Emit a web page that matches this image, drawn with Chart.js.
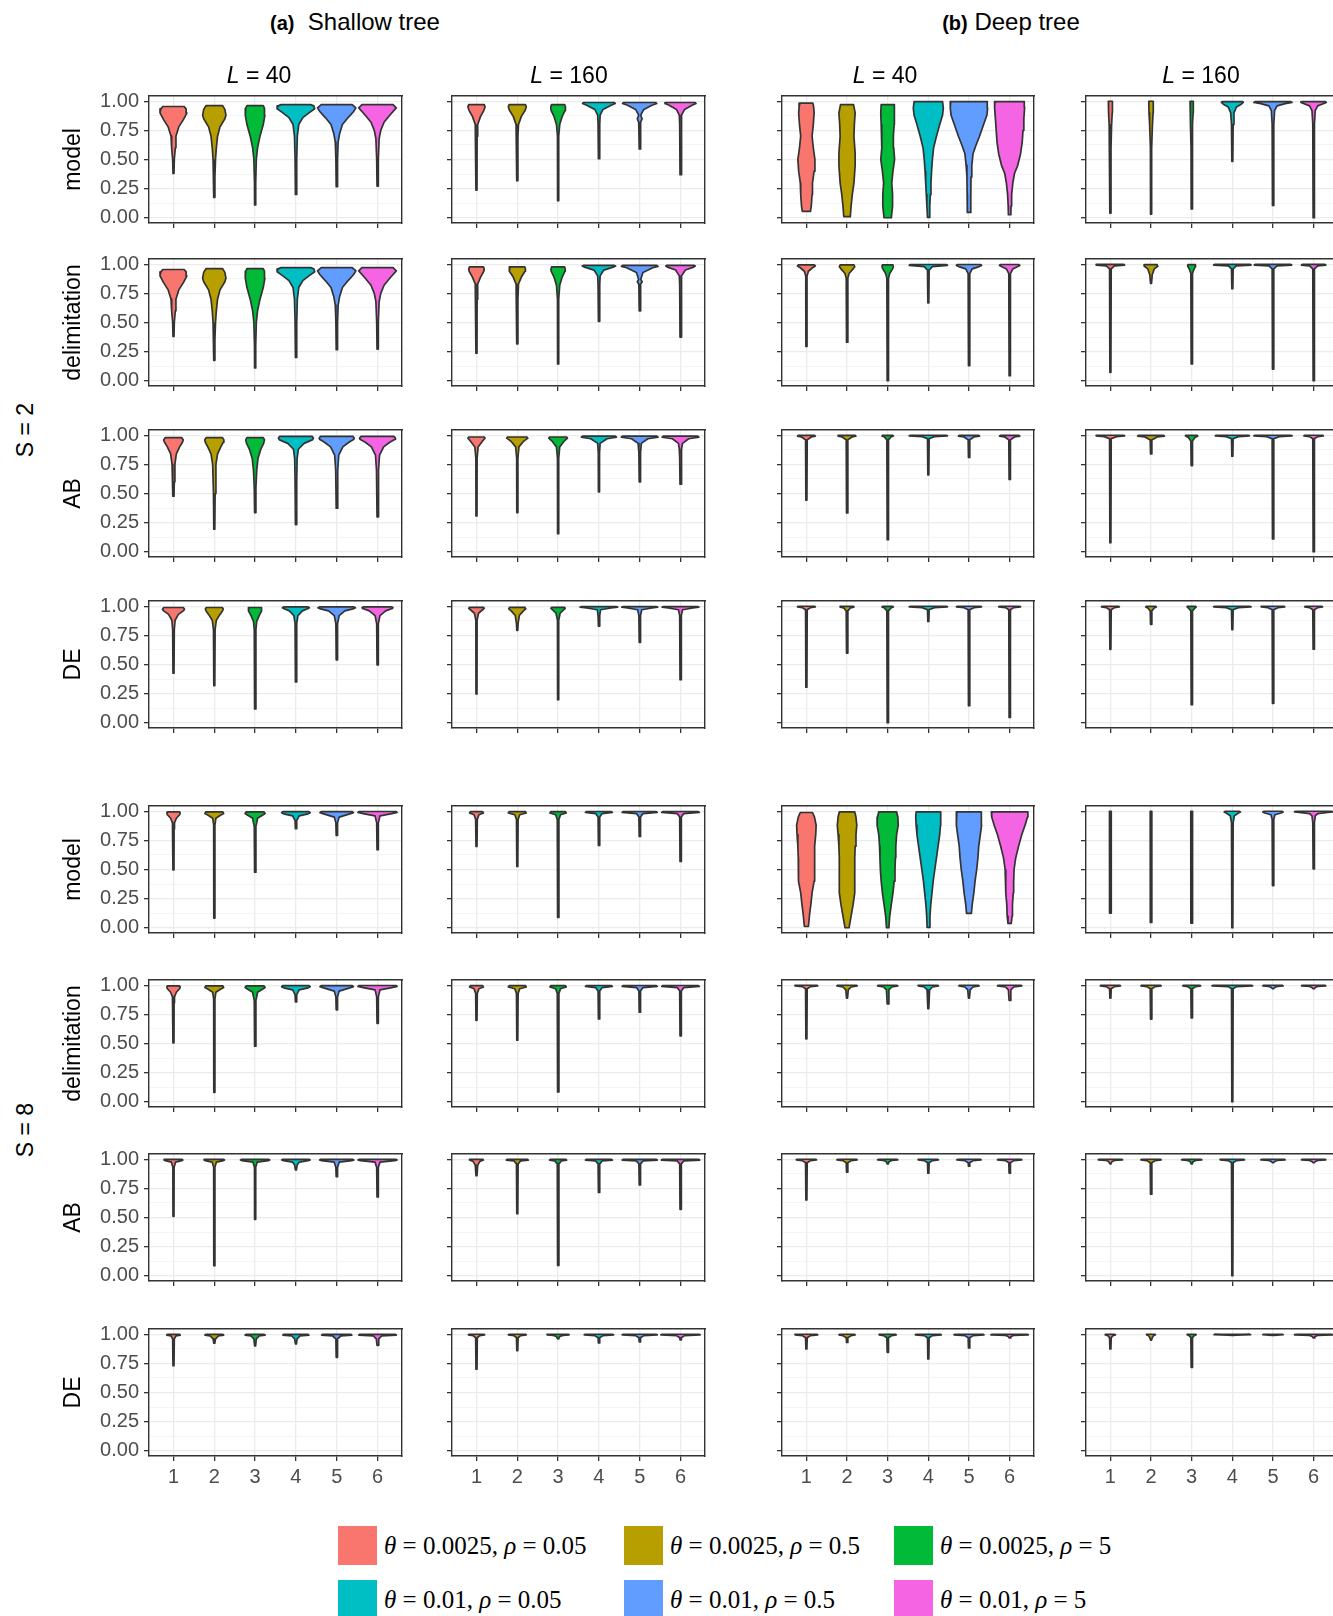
<!DOCTYPE html>
<html>
<head>
<meta charset="utf-8">
<script src="https://cdn.jsdelivr.net/npm/chart.js@4"></script>
<style>
html, body { margin: 0; padding: 0; background: #fff; overflow: hidden; }
#page { position: relative; width: 1333px; height: 1616px; overflow: hidden; font-family: "Liberation Sans", Arial, sans-serif; }
canvas { position: absolute; }
.lbl { position: absolute; transform: translate(-50%, -50%); white-space: nowrap; color: #000; font-size: 23px; }
.side { position: absolute; transform: translate(-50%, -50%) rotate(-90deg); white-space: nowrap; font-size: 23px; }
.sw { position: absolute; width: 39px; height: 39px; }
.lt { position: absolute; transform: translateY(-50%); white-space: nowrap; font-family: "Liberation Serif", "Times New Roman", serif; font-size: 25px; }
</style>
</head>
<body>
<div id="page">
  <div class="lbl" style="left:355px; top:22px; font-size:24px;"><b style="font-size:20px;">(a)</b>&nbsp; Shallow tree</div>
  <div class="lbl" style="left:1011px; top:22px; font-size:24px;"><b style="font-size:20px;">(b)</b> Deep tree</div>
  <div class="side" style="left:25px; top:430px;">S = 2</div>
  <div class="side" style="left:25px; top:1130px;">S = 8</div>
</div>
<script>
const groups = [1, 2, 3, 4, 5, 6];
const fillColors = ['#F8766D', '#B79F00', '#00BA38', '#00BFC4', '#619CFF', '#F564E3'];
const yTicks = [0, 0.25, 0.5, 0.75, 1];
const yMinorTicks = [0.125, 0.375, 0.625, 0.875];
const rowTitles = ['model', 'delimitation', 'AB', 'DE', 'model', 'delimitation', 'AB', 'DE'];
const colTitles = ['40', '160', '40', '160'];
const thetaValues = ['0.0025', '0.0025', '0.0025', '0.01', '0.01', '0.01'];
const rhoValues = ['0.05', '0.5', '5', '0.05', '0.5', '5'];

// each violin: [value, half width] pairs, bottom to top

// ---- S = 2, shallow tree
const shallow_S2_L40_model = [
  [[0.38,0.012],[0.5,0.02],[0.6,0.045],[0.7,0.06],[0.78,0.13],[0.84,0.24],[0.9,0.33],[0.935,0.31],[0.955,0.26]],
  [[0.175,0.012],[0.35,0.015],[0.5,0.03],[0.6,0.05],[0.7,0.08],[0.78,0.14],[0.85,0.26],[0.88,0.285],[0.93,0.26],[0.963,0.2]],
  [[0.11,0.012],[0.3,0.015],[0.5,0.03],[0.6,0.06],[0.7,0.12],[0.8,0.2],[0.88,0.24],[0.94,0.23],[0.963,0.2]],
  [[0.2,0.012],[0.5,0.02],[0.7,0.035],[0.8,0.07],[0.86,0.17],[0.9,0.32],[0.935,0.46],[0.96,0.44],[0.971,0.36]],
  [[0.266,0.012],[0.5,0.02],[0.65,0.035],[0.72,0.07],[0.8,0.14],[0.86,0.28],[0.91,0.41],[0.943,0.47],[0.971,0.38]],
  [[0.272,0.012],[0.5,0.02],[0.68,0.04],[0.75,0.08],[0.82,0.16],[0.88,0.3],[0.943,0.46],[0.971,0.38]]
];
const shallow_S2_L40_delim = [
  [[0.38,0.012],[0.5,0.02],[0.6,0.045],[0.7,0.06],[0.78,0.13],[0.84,0.24],[0.9,0.33],[0.935,0.31],[0.955,0.26]],
  [[0.175,0.012],[0.35,0.015],[0.5,0.03],[0.6,0.05],[0.7,0.08],[0.78,0.14],[0.85,0.26],[0.88,0.285],[0.93,0.26],[0.963,0.2]],
  [[0.11,0.012],[0.3,0.015],[0.5,0.03],[0.6,0.06],[0.7,0.12],[0.8,0.2],[0.88,0.24],[0.94,0.23],[0.963,0.2]],
  [[0.2,0.012],[0.5,0.02],[0.7,0.035],[0.8,0.07],[0.86,0.17],[0.9,0.32],[0.935,0.46],[0.96,0.44],[0.971,0.36]],
  [[0.266,0.012],[0.5,0.02],[0.65,0.035],[0.72,0.07],[0.8,0.14],[0.86,0.28],[0.91,0.41],[0.943,0.47],[0.971,0.38]],
  [[0.272,0.012],[0.5,0.02],[0.68,0.04],[0.75,0.08],[0.82,0.16],[0.88,0.3],[0.943,0.46],[0.971,0.38]]
];
const shallow_S2_L40_AB = [
  [[0.477,0.012],[0.6,0.02],[0.75,0.035],[0.84,0.07],[0.9,0.15],[0.94,0.22],[0.96,0.24],[0.98,0.2]],
  [[0.193,0.012],[0.5,0.02],[0.75,0.04],[0.84,0.08],[0.9,0.16],[0.94,0.22],[0.96,0.235],[0.98,0.2]],
  [[0.336,0.012],[0.55,0.02],[0.7,0.04],[0.8,0.07],[0.88,0.14],[0.93,0.21],[0.96,0.23],[0.98,0.2]],
  [[0.233,0.012],[0.6,0.02],[0.8,0.03],[0.88,0.06],[0.93,0.2],[0.96,0.4],[0.975,0.43],[0.99,0.4]],
  [[0.374,0.012],[0.7,0.025],[0.83,0.05],[0.9,0.15],[0.94,0.3],[0.965,0.42],[0.975,0.43],[0.99,0.4]],
  [[0.3,0.012],[0.7,0.025],[0.83,0.05],[0.9,0.15],[0.94,0.3],[0.965,0.43],[0.975,0.44],[0.99,0.4]]
];
const shallow_S2_L40_DE = [
  [[0.425,0.012],[0.8,0.02],[0.88,0.04],[0.93,0.12],[0.96,0.24],[0.975,0.27],[0.989,0.24]],
  [[0.319,0.012],[0.8,0.02],[0.88,0.05],[0.93,0.14],[0.96,0.2],[0.975,0.22],[0.989,0.2]],
  [[0.118,0.012],[0.8,0.02],[0.87,0.04],[0.92,0.1],[0.96,0.16],[0.975,0.165],[0.989,0.15]],
  [[0.35,0.012],[0.85,0.02],[0.92,0.05],[0.96,0.16],[0.98,0.3],[0.987,0.33],[0.994,0.3]],
  [[0.54,0.012],[0.85,0.02],[0.92,0.06],[0.96,0.2],[0.98,0.42],[0.987,0.46],[0.994,0.42]],
  [[0.497,0.012],[0.85,0.02],[0.92,0.06],[0.96,0.2],[0.98,0.36],[0.987,0.38],[0.994,0.35]]
];
const shallow_S2_L160_model = [
  [[0.238,0.012],[0.7,0.015],[0.8,0.03],[0.87,0.1],[0.92,0.18],[0.95,0.21],[0.971,0.19]],
  [[0.318,0.012],[0.7,0.015],[0.8,0.03],[0.87,0.1],[0.92,0.19],[0.95,0.22],[0.971,0.2]],
  [[0.146,0.012],[0.7,0.015],[0.8,0.04],[0.87,0.1],[0.92,0.17],[0.95,0.18],[0.971,0.16]],
  [[0.507,0.012],[0.8,0.02],[0.88,0.03],[0.93,0.1],[0.965,0.3],[0.98,0.4],[0.989,0.38]],
  [[0.59,0.012],[0.75,0.02],[0.82,0.025],[0.85,0.06],[0.88,0.025],[0.93,0.1],[0.965,0.3],[0.98,0.42],[0.989,0.4]],
  [[0.37,0.012],[0.8,0.02],[0.88,0.03],[0.93,0.1],[0.965,0.28],[0.98,0.38],[0.989,0.36]]
];
const shallow_S2_L160_delim = [
  [[0.236,0.012],[0.7,0.015],[0.83,0.03],[0.89,0.1],[0.94,0.18],[0.96,0.19],[0.977,0.17]],
  [[0.317,0.012],[0.7,0.015],[0.83,0.03],[0.89,0.1],[0.94,0.19],[0.96,0.2],[0.977,0.18]],
  [[0.144,0.012],[0.7,0.015],[0.82,0.04],[0.89,0.1],[0.94,0.17],[0.96,0.175],[0.977,0.16]],
  [[0.51,0.012],[0.82,0.02],[0.9,0.03],[0.95,0.12],[0.975,0.35],[0.985,0.41],[0.99,0.38]],
  [[0.6,0.012],[0.8,0.02],[0.83,0.025],[0.85,0.06],[0.87,0.025],[0.93,0.08],[0.97,0.32],[0.982,0.45],[0.99,0.42]],
  [[0.375,0.012],[0.82,0.02],[0.9,0.03],[0.95,0.12],[0.975,0.32],[0.985,0.36],[0.99,0.34]]
];
const shallow_S2_L160_AB = [
  [[0.307,0.012],[0.8,0.015],[0.9,0.04],[0.95,0.15],[0.975,0.21],[0.985,0.19]],
  [[0.336,0.012],[0.8,0.015],[0.9,0.04],[0.95,0.16],[0.975,0.26],[0.985,0.24]],
  [[0.155,0.012],[0.8,0.015],[0.9,0.04],[0.95,0.15],[0.975,0.23],[0.985,0.21]],
  [[0.514,0.012],[0.85,0.015],[0.93,0.03],[0.97,0.2],[0.983,0.43],[0.992,0.4]],
  [[0.6,0.012],[0.85,0.02],[0.93,0.04],[0.97,0.2],[0.983,0.45],[0.992,0.42]],
  [[0.58,0.012],[0.8,0.02],[0.88,0.03],[0.93,0.05],[0.97,0.2],[0.983,0.45],[0.992,0.42]]
];
const shallow_S2_L160_DE = [
  [[0.247,0.012],[0.88,0.015],[0.94,0.05],[0.97,0.15],[0.982,0.19],[0.99,0.17]],
  [[0.793,0.012],[0.85,0.02],[0.92,0.05],[0.96,0.15],[0.978,0.21],[0.99,0.19]],
  [[0.198,0.012],[0.88,0.015],[0.94,0.05],[0.97,0.14],[0.982,0.175],[0.99,0.16]],
  [[0.83,0.012],[0.92,0.02],[0.97,0.04],[0.985,0.3],[0.992,0.46],[0.997,0.42]],
  [[0.69,0.012],[0.92,0.02],[0.97,0.05],[0.985,0.3],[0.992,0.44],[0.997,0.4]],
  [[0.37,0.012],[0.92,0.02],[0.97,0.05],[0.985,0.3],[0.992,0.45],[0.997,0.41]]
];

// ---- S = 2, deep tree
const deep_S2_L40_model = [
  [[0.054,0.1],[0.1,0.12],[0.2,0.14],[0.3,0.15],[0.4,0.19],[0.5,0.21],[0.6,0.17],[0.7,0.14],[0.8,0.17],[0.9,0.19],[0.95,0.18],[0.983,0.16]],
  [[0.009,0.08],[0.1,0.1],[0.2,0.13],[0.3,0.17],[0.45,0.2],[0.55,0.2],[0.7,0.17],[0.8,0.18],[0.9,0.2],[0.971,0.16]],
  [[0.0,0.09],[0.1,0.12],[0.2,0.12],[0.3,0.1],[0.4,0.13],[0.5,0.17],[0.6,0.15],[0.7,0.14],[0.8,0.16],[0.9,0.17],[0.971,0.16]],
  [[0.003,0.02],[0.1,0.035],[0.2,0.05],[0.3,0.065],[0.4,0.08],[0.5,0.1],[0.6,0.13],[0.7,0.2],[0.8,0.28],[0.88,0.35],[0.94,0.37],[0.997,0.35]],
  [[0.046,0.04],[0.2,0.045],[0.35,0.05],[0.45,0.07],[0.55,0.1],[0.62,0.17],[0.7,0.26],[0.8,0.36],[0.88,0.44],[0.94,0.46],[0.997,0.45]],
  [[0.026,0.03],[0.1,0.035],[0.2,0.05],[0.3,0.08],[0.38,0.12],[0.45,0.2],[0.55,0.27],[0.65,0.31],[0.75,0.33],[0.85,0.35],[0.95,0.37],[0.997,0.36]]
];
const deep_S2_L40_delim = [
  [[0.294,0.012],[0.9,0.015],[0.94,0.05],[0.97,0.15],[0.985,0.22],[0.994,0.2]],
  [[0.331,0.012],[0.88,0.02],[0.92,0.05],[0.96,0.15],[0.98,0.19],[0.994,0.17]],
  [[0.0,0.012],[0.88,0.02],[0.92,0.05],[0.96,0.12],[0.98,0.14],[0.994,0.13]],
  [[0.669,0.012],[0.95,0.02],[0.98,0.1],[0.99,0.47],[0.998,0.45]],
  [[0.13,0.012],[0.92,0.02],[0.96,0.08],[0.98,0.25],[0.99,0.31],[0.998,0.29]],
  [[0.043,0.012],[0.92,0.02],[0.96,0.08],[0.98,0.2],[0.99,0.25],[0.998,0.23]]
];
const deep_S2_L40_AB = [
  [[0.443,0.012],[0.96,0.02],[0.985,0.12],[0.993,0.22],[0.999,0.2]],
  [[0.333,0.012],[0.96,0.02],[0.985,0.12],[0.993,0.22],[0.999,0.2]],
  [[0.103,0.012],[0.96,0.02],[0.985,0.08],[0.993,0.14],[0.999,0.13]],
  [[0.66,0.012],[0.97,0.02],[0.988,0.15],[0.995,0.47],[1.0,0.44]],
  [[0.81,0.012],[0.96,0.02],[0.985,0.12],[0.993,0.26],[0.999,0.24]],
  [[0.62,0.012],[0.96,0.02],[0.985,0.12],[0.993,0.25],[0.999,0.23]]
];
const deep_S2_L40_DE = [
  [[0.305,0.012],[0.97,0.02],[0.988,0.1],[0.995,0.22],[1.0,0.2]],
  [[0.598,0.012],[0.96,0.02],[0.985,0.08],[0.993,0.17],[0.999,0.16]],
  [[0.0,0.012],[0.96,0.02],[0.985,0.08],[0.993,0.14],[0.999,0.13]],
  [[0.87,0.012],[0.97,0.02],[0.988,0.15],[0.995,0.47],[1.0,0.44]],
  [[0.147,0.012],[0.97,0.02],[0.988,0.12],[0.995,0.31],[1.0,0.29]],
  [[0.046,0.012],[0.97,0.02],[0.988,0.1],[0.995,0.27],[1.0,0.25]]
];
const deep_S2_L160_model = [
  [[0.04,0.012],[0.6,0.015],[0.8,0.03],[0.9,0.045],[1.0,0.05]],
  [[0.032,0.012],[0.6,0.015],[0.8,0.035],[0.9,0.05],[1.0,0.055]],
  [[0.075,0.012],[0.6,0.015],[0.8,0.025],[0.9,0.035],[1.0,0.04]],
  [[0.484,0.012],[0.8,0.02],[0.9,0.04],[0.95,0.1],[0.975,0.22],[0.99,0.27],[0.997,0.25]],
  [[0.106,0.012],[0.8,0.02],[0.92,0.04],[0.96,0.1],[0.98,0.3],[0.99,0.47],[0.997,0.44]],
  [[0.0,0.012],[0.8,0.02],[0.92,0.04],[0.96,0.1],[0.98,0.25],[0.99,0.31],[0.997,0.29]]
];
const deep_S2_L160_delim = [
  [[0.072,0.012],[0.96,0.02],[0.985,0.1],[0.993,0.35],[0.999,0.33]],
  [[0.836,0.012],[0.91,0.03],[0.96,0.08],[0.985,0.17],[0.997,0.15]],
  [[0.144,0.012],[0.92,0.02],[0.96,0.06],[0.985,0.1],[0.997,0.09]],
  [[0.79,0.012],[0.96,0.02],[0.985,0.1],[0.993,0.46],[0.999,0.43]],
  [[0.1,0.012],[0.96,0.02],[0.985,0.1],[0.993,0.46],[0.999,0.43]],
  [[0.0,0.012],[0.96,0.02],[0.985,0.1],[0.993,0.3],[0.999,0.28]]
];
const deep_S2_L160_AB = [
  [[0.078,0.012],[0.97,0.02],[0.988,0.15],[0.995,0.35],[1.0,0.33]],
  [[0.84,0.012],[0.96,0.02],[0.985,0.15],[0.993,0.33],[0.999,0.31]],
  [[0.74,0.012],[0.95,0.02],[0.98,0.08],[0.993,0.15],[0.999,0.14]],
  [[0.82,0.012],[0.97,0.02],[0.988,0.15],[0.995,0.42],[1.0,0.4]],
  [[0.11,0.012],[0.97,0.02],[0.988,0.15],[0.995,0.47],[1.0,0.44]],
  [[0.0,0.012],[0.97,0.02],[0.988,0.1],[0.995,0.24],[1.0,0.22]]
];
const deep_S2_L160_DE = [
  [[0.63,0.012],[0.97,0.02],[0.988,0.1],[0.995,0.22],[1.0,0.2]],
  [[0.845,0.012],[0.96,0.02],[0.985,0.08],[0.993,0.13],[0.999,0.12]],
  [[0.155,0.012],[0.96,0.02],[0.985,0.08],[0.993,0.11],[0.999,0.1]],
  [[0.8,0.012],[0.97,0.02],[0.988,0.15],[0.995,0.46],[1.0,0.43]],
  [[0.167,0.012],[0.97,0.02],[0.988,0.12],[0.995,0.29],[1.0,0.27]],
  [[0.632,0.012],[0.97,0.02],[0.988,0.1],[0.995,0.22],[1.0,0.2]]
];

// ---- S = 8, shallow tree
const shallow_S8_L40_model = [
  [[0.497,0.012],[0.85,0.015],[0.9,0.025],[0.94,0.07],[0.97,0.15],[0.985,0.165],[0.994,0.15]],
  [[0.083,0.012],[0.88,0.015],[0.94,0.04],[0.965,0.15],[0.98,0.23],[0.994,0.21]],
  [[0.477,0.012],[0.87,0.02],[0.9,0.04],[0.94,0.06],[0.965,0.18],[0.98,0.245],[0.994,0.22]],
  [[0.85,0.012],[0.92,0.02],[0.96,0.08],[0.978,0.3],[0.988,0.35],[0.996,0.32]],
  [[0.793,0.012],[0.9,0.02],[0.95,0.06],[0.975,0.3],[0.987,0.41],[0.996,0.38]],
  [[0.67,0.012],[0.9,0.02],[0.96,0.06],[0.98,0.35],[0.99,0.48],[0.998,0.45]]
];
const shallow_S8_L40_delim = [
  [[0.506,0.012],[0.85,0.015],[0.9,0.025],[0.94,0.07],[0.97,0.15],[0.985,0.165],[0.994,0.15]],
  [[0.081,0.012],[0.88,0.015],[0.94,0.04],[0.965,0.15],[0.98,0.23],[0.994,0.21]],
  [[0.477,0.012],[0.87,0.02],[0.9,0.04],[0.94,0.06],[0.965,0.18],[0.98,0.245],[0.994,0.22]],
  [[0.858,0.012],[0.92,0.02],[0.96,0.08],[0.978,0.3],[0.988,0.35],[0.996,0.32]],
  [[0.789,0.012],[0.9,0.02],[0.95,0.06],[0.975,0.3],[0.987,0.41],[0.996,0.38]],
  [[0.673,0.012],[0.9,0.02],[0.96,0.06],[0.98,0.35],[0.99,0.48],[0.998,0.45]]
];
const shallow_S8_L40_AB = [
  [[0.51,0.012],[0.93,0.015],[0.975,0.05],[0.988,0.2],[0.994,0.23],[0.999,0.21]],
  [[0.086,0.012],[0.93,0.015],[0.975,0.05],[0.988,0.22],[0.994,0.25],[0.999,0.23]],
  [[0.484,0.012],[0.93,0.015],[0.975,0.05],[0.988,0.32],[0.994,0.36],[0.999,0.33]],
  [[0.908,0.012],[0.95,0.03],[0.975,0.08],[0.988,0.3],[0.994,0.35],[0.999,0.32]],
  [[0.85,0.012],[0.93,0.02],[0.975,0.06],[0.988,0.37],[0.994,0.42],[0.999,0.39]],
  [[0.677,0.012],[0.93,0.02],[0.975,0.06],[0.988,0.42],[0.994,0.48],[0.999,0.45]]
];
const shallow_S8_L40_DE = [
  [[0.73,0.012],[0.96,0.02],[0.985,0.06],[0.993,0.165],[0.999,0.15]],
  [[0.923,0.012],[0.96,0.03],[0.985,0.1],[0.993,0.23],[0.999,0.21]],
  [[0.9,0.012],[0.96,0.03],[0.985,0.1],[0.993,0.245],[0.999,0.22]],
  [[0.917,0.012],[0.96,0.03],[0.985,0.1],[0.993,0.32],[0.999,0.3]],
  [[0.802,0.012],[0.96,0.02],[0.985,0.1],[0.993,0.37],[0.999,0.35]],
  [[0.905,0.012],[0.96,0.03],[0.985,0.1],[0.993,0.46],[0.999,0.43]]
];
const shallow_S8_L160_model = [
  [[0.698,0.012],[0.93,0.02],[0.97,0.06],[0.985,0.17],[0.996,0.15]],
  [[0.526,0.012],[0.93,0.02],[0.97,0.06],[0.985,0.22],[0.996,0.2]],
  [[0.089,0.012],[0.93,0.02],[0.97,0.06],[0.985,0.2],[0.996,0.18]],
  [[0.707,0.012],[0.95,0.02],[0.98,0.08],[0.99,0.33],[0.998,0.3]],
  [[0.784,0.012],[0.95,0.02],[0.98,0.08],[0.99,0.43],[0.998,0.4]],
  [[0.569,0.012],[0.95,0.02],[0.98,0.08],[0.99,0.46],[0.998,0.43]]
];
const shallow_S8_L160_delim = [
  [[0.699,0.012],[0.93,0.02],[0.97,0.06],[0.985,0.17],[0.996,0.15]],
  [[0.529,0.012],[0.93,0.02],[0.97,0.06],[0.985,0.22],[0.996,0.2]],
  [[0.084,0.012],[0.93,0.02],[0.97,0.06],[0.985,0.2],[0.996,0.18]],
  [[0.711,0.012],[0.95,0.02],[0.98,0.08],[0.99,0.33],[0.998,0.3]],
  [[0.768,0.012],[0.95,0.02],[0.98,0.08],[0.99,0.43],[0.998,0.4]],
  [[0.566,0.012],[0.95,0.02],[0.98,0.08],[0.99,0.46],[0.998,0.43]]
];
const shallow_S8_L160_AB = [
  [[0.859,0.012],[0.95,0.03],[0.98,0.08],[0.993,0.17],[0.999,0.16]],
  [[0.533,0.012],[0.96,0.02],[0.985,0.08],[0.993,0.27],[0.999,0.25]],
  [[0.089,0.012],[0.96,0.02],[0.985,0.08],[0.993,0.21],[0.999,0.19]],
  [[0.715,0.012],[0.96,0.02],[0.985,0.08],[0.993,0.33],[0.999,0.3]],
  [[0.78,0.012],[0.96,0.02],[0.985,0.08],[0.993,0.43],[0.999,0.4]],
  [[0.57,0.012],[0.96,0.02],[0.985,0.08],[0.993,0.47],[0.999,0.44]]
];
const shallow_S8_L160_DE = [
  [[0.7,0.012],[0.97,0.02],[0.988,0.08],[0.995,0.2],[1.0,0.18]],
  [[0.86,0.012],[0.97,0.02],[0.988,0.08],[0.995,0.22],[1.0,0.2]],
  [[0.96,0.012],[0.98,0.04],[0.99,0.12],[0.995,0.27],[1.0,0.25]],
  [[0.925,0.012],[0.97,0.02],[0.988,0.1],[0.995,0.36],[1.0,0.33]],
  [[0.934,0.012],[0.97,0.02],[0.988,0.1],[0.995,0.43],[1.0,0.4]],
  [[0.951,0.012],[0.97,0.02],[0.988,0.1],[0.995,0.48],[1.0,0.45]]
];

// ---- S = 8, deep tree
const deep_S8_L40_model = [
  [[0.011,0.05],[0.12,0.08],[0.2,0.11],[0.3,0.14],[0.4,0.19],[0.5,0.2],[0.6,0.2],[0.7,0.21],[0.8,0.23],[0.88,0.24],[0.95,0.2],[0.989,0.15]],
  [[0.0,0.05],[0.1,0.1],[0.2,0.15],[0.3,0.19],[0.4,0.19],[0.5,0.19],[0.6,0.19],[0.7,0.2],[0.8,0.22],[0.88,0.24],[0.95,0.22],[0.994,0.19]],
  [[0.0,0.03],[0.1,0.05],[0.2,0.09],[0.3,0.13],[0.4,0.16],[0.5,0.18],[0.6,0.19],[0.7,0.2],[0.8,0.22],[0.88,0.26],[0.95,0.25],[0.994,0.22]],
  [[0.003,0.03],[0.1,0.04],[0.2,0.06],[0.3,0.09],[0.4,0.12],[0.5,0.16],[0.6,0.2],[0.7,0.24],[0.8,0.28],[0.88,0.3],[0.95,0.31],[0.994,0.3]],
  [[0.124,0.06],[0.2,0.08],[0.3,0.12],[0.4,0.15],[0.5,0.19],[0.6,0.22],[0.7,0.24],[0.8,0.28],[0.88,0.31],[0.95,0.31],[0.994,0.3]],
  [[0.037,0.04],[0.1,0.06],[0.2,0.07],[0.3,0.09],[0.4,0.1],[0.5,0.11],[0.6,0.15],[0.7,0.22],[0.8,0.3],[0.88,0.38],[0.95,0.44],[0.994,0.45]]
];
const deep_S8_L40_delim = [
  [[0.54,0.012],[0.97,0.02],[0.988,0.1],[0.995,0.28],[1.0,0.26]],
  [[0.89,0.012],[0.96,0.03],[0.985,0.1],[0.995,0.25],[1.0,0.23]],
  [[0.84,0.012],[0.96,0.03],[0.985,0.1],[0.995,0.25],[1.0,0.23]],
  [[0.8,0.012],[0.96,0.03],[0.985,0.1],[0.995,0.25],[1.0,0.23]],
  [[0.89,0.012],[0.96,0.03],[0.985,0.1],[0.995,0.25],[1.0,0.23]],
  [[0.87,0.012],[0.96,0.03],[0.985,0.1],[0.995,0.3],[1.0,0.28]]
];
const deep_S8_L40_AB = [
  [[0.65,0.012],[0.97,0.02],[0.988,0.1],[0.995,0.25],[1.0,0.23]],
  [[0.89,0.012],[0.97,0.02],[0.988,0.1],[0.995,0.25],[1.0,0.23]],
  [[0.96,0.012],[0.98,0.04],[0.99,0.1],[0.995,0.25],[1.0,0.23]],
  [[0.88,0.012],[0.97,0.02],[0.988,0.1],[0.995,0.25],[1.0,0.23]],
  [[0.94,0.012],[0.97,0.02],[0.988,0.1],[0.995,0.3],[1.0,0.28]],
  [[0.88,0.012],[0.97,0.02],[0.988,0.1],[0.995,0.3],[1.0,0.28]]
];
const deep_S8_L40_DE = [
  [[0.874,0.012],[0.97,0.02],[0.988,0.1],[0.995,0.28],[1.0,0.26]],
  [[0.93,0.012],[0.97,0.02],[0.988,0.1],[0.995,0.2],[1.0,0.18]],
  [[0.845,0.012],[0.97,0.02],[0.988,0.1],[0.995,0.21],[1.0,0.19]],
  [[0.788,0.012],[0.97,0.02],[0.988,0.1],[0.995,0.32],[1.0,0.3]],
  [[0.883,0.012],[0.97,0.02],[0.988,0.1],[0.995,0.37],[1.0,0.35]],
  [[0.968,0.012],[0.98,0.03],[0.99,0.1],[0.995,0.46],[1.0,0.43]]
];
const deep_S8_L160_model = [
  [[0.126,0.018],[0.5,0.02],[0.9,0.022],[1.0,0.022]],
  [[0.046,0.016],[0.5,0.018],[0.9,0.02],[1.0,0.02]],
  [[0.04,0.018],[0.5,0.02],[0.9,0.022],[1.0,0.022]],
  [[0.0,0.012],[0.9,0.02],[0.96,0.05],[0.985,0.15],[0.993,0.2],[1.0,0.18]],
  [[0.362,0.012],[0.93,0.02],[0.97,0.05],[0.985,0.2],[0.993,0.25],[1.0,0.23]],
  [[0.506,0.012],[0.9,0.02],[0.96,0.04],[0.98,0.1],[0.99,0.35],[0.995,0.47],[1.0,0.44]]
];
const deep_S8_L160_delim = [
  [[0.89,0.012],[0.97,0.02],[0.988,0.1],[0.995,0.25],[1.0,0.23]],
  [[0.71,0.012],[0.97,0.02],[0.988,0.1],[0.995,0.25],[1.0,0.23]],
  [[0.72,0.012],[0.97,0.02],[0.988,0.1],[0.995,0.22],[1.0,0.2]],
  [[0.0,0.012],[0.97,0.02],[0.988,0.1],[0.995,0.5],[1.0,0.47]],
  [[0.97,0.012],[0.98,0.04],[0.99,0.1],[0.995,0.25],[1.0,0.23]],
  [[0.97,0.012],[0.98,0.04],[0.99,0.1],[0.995,0.3],[1.0,0.28]]
];
const deep_S8_L160_AB = [
  [[0.96,0.012],[0.98,0.04],[0.99,0.1],[0.995,0.3],[1.0,0.28]],
  [[0.7,0.012],[0.97,0.02],[0.988,0.1],[0.995,0.25],[1.0,0.23]],
  [[0.96,0.012],[0.98,0.04],[0.99,0.1],[0.995,0.25],[1.0,0.23]],
  [[0.0,0.012],[0.97,0.02],[0.988,0.1],[0.995,0.3],[1.0,0.28]],
  [[0.97,0.012],[0.98,0.04],[0.99,0.1],[0.995,0.3],[1.0,0.28]],
  [[0.97,0.012],[0.98,0.04],[0.99,0.1],[0.995,0.3],[1.0,0.28]]
];
const deep_S8_L160_DE = [
  [[0.874,0.012],[0.97,0.02],[0.988,0.06],[0.995,0.125],[1.0,0.11]],
  [[0.95,0.012],[0.97,0.03],[0.988,0.06],[0.995,0.11],[1.0,0.1]],
  [[0.716,0.012],[0.97,0.02],[0.988,0.06],[0.995,0.11],[1.0,0.1]],
  [[0.99,0.012],[0.993,0.1],[0.996,0.45],[1.0,0.42]],
  [[0.99,0.012],[0.993,0.1],[0.996,0.25],[1.0,0.23]],
  [[0.968,0.012],[0.98,0.03],[0.99,0.1],[0.995,0.47],[1.0,0.44]]
];

const panelGrid = [
  [shallow_S2_L40_model, shallow_S2_L160_model, deep_S2_L40_model, deep_S2_L160_model],
  [shallow_S2_L40_delim, shallow_S2_L160_delim, deep_S2_L40_delim, deep_S2_L160_delim],
  [shallow_S2_L40_AB, shallow_S2_L160_AB, deep_S2_L40_AB, deep_S2_L160_AB],
  [shallow_S2_L40_DE, shallow_S2_L160_DE, deep_S2_L40_DE, deep_S2_L160_DE],
  [shallow_S8_L40_model, shallow_S8_L160_model, deep_S8_L40_model, deep_S8_L160_model],
  [shallow_S8_L40_delim, shallow_S8_L160_delim, deep_S8_L40_delim, deep_S8_L160_delim],
  [shallow_S8_L40_AB, shallow_S8_L160_AB, deep_S8_L40_AB, deep_S8_L160_AB],
  [shallow_S8_L40_DE, shallow_S8_L160_DE, deep_S8_L40_DE, deep_S8_L160_DE]
];

// page layout (px)
const colLeft = [149, 452, 782, 1086];
const colWidth = [253, 253, 252, 252];
const rowTop = [96, 259, 430, 601, 806, 980, 1154, 1329];
const rowHeight = 127;
const colTitleX = [259, 569, 885, 1201];

const page = document.getElementById('page');
const fontFamily = '"Liberation Sans", Arial, sans-serif';
const dark = '#333333';

// fill the violin shape under its outline
const violinFill = {
  id: 'violinFill',
  beforeDatasetDraw(chart, args) {
    const pts = args.meta.data;
    if (!pts.length) return;
    const ctx = chart.ctx;
    ctx.save();
    ctx.beginPath();
    ctx.moveTo(pts[0].x, pts[0].y);
    for (let k = 1; k < pts.length; k++) ctx.lineTo(pts[k].x, pts[k].y);
    ctx.closePath();
    ctx.fillStyle = chart.data.datasets[args.index].backgroundColor;
    ctx.fill();
    ctx.restore();
  }
};

function outline(profile, center) {
  const right = profile.map(([v, hw]) => ({x: center + hw, y: v}));
  const left = profile.slice().reverse().map(([v, hw]) => ({x: center - hw, y: v}));
  const pts = right.concat(left);
  pts.push(pts[0]);
  return pts;
}

function makePanel(violins, r, c) {
  const padL = c === 0 ? colLeft[0] - 60 : 14;
  const padR = 6, padT = 24, padB = 36;
  const cv = document.createElement('canvas');
  cv.width = colWidth[c] + padL + padR;
  cv.height = rowHeight + padT + padB;
  cv.style.left = (colLeft[c] - padL) + 'px';
  cv.style.top = (rowTop[r] - padT) + 'px';
  page.appendChild(cv);

  new Chart(cv, {
    type: 'line',
    data: {
      datasets: violins.map((prof, i) => ({
        data: outline(prof, groups[i]),
        borderColor: dark,
        borderWidth: 1.7,
        backgroundColor: fillColors[i],
        fill: false,
        pointRadius: 0,
        pointHoverRadius: 0,
        tension: 0,
        borderJoinStyle: 'round',
        borderCapStyle: 'round'
      }))
    },
    options: {
      responsive: false,
      animation: false,
      events: [],
      layout: { padding: { top: padT, right: padR, left: 0, bottom: 0 } },
      plugins: { legend: { display: false }, tooltip: { enabled: false } },
      scales: {
        x: {
          type: 'linear', position: 'bottom', min: 0.4, max: 6.6,
          afterBuildTicks: s => { s.ticks = groups.map(v => ({value: v})); },
          afterFit: s => { s.height = padB; },
          grid: { color: '#EBEBEB', lineWidth: 1.3, tickColor: dark, tickLength: 5, tickWidth: 1.3 },
          border: { display: true, color: dark, width: 1.4 },
          ticks: { display: r === 7, color: '#4D4D4D', font: { size: 20, family: fontFamily }, padding: 4, maxRotation: 0, callback: v => String(v) }
        },
        y: {
          type: 'linear', position: 'left', min: -0.045, max: 1.045,
          afterBuildTicks: s => { s.ticks = yTicks.map(v => ({value: v})); },
          afterFit: s => { s.width = padL; },
          grid: { color: '#EBEBEB', lineWidth: 1.3, tickColor: dark, tickLength: 5, tickWidth: 1.3 },
          border: { display: true, color: dark, width: 1.4 },
          ticks: { display: c === 0, color: '#4D4D4D', font: { size: 20, family: fontFamily }, padding: 5, callback: v => v.toFixed(2) },
          title: { display: c === 0, text: rowTitles[r], color: '#000', font: { size: 23, family: fontFamily }, padding: 0 }
        },
        yMinor: {
          axis: 'y', type: 'linear', position: 'left', min: -0.045, max: 1.045,
          afterBuildTicks: s => { s.ticks = yMinorTicks.map(v => ({value: v})); },
          afterFit: s => { s.width = 0; },
          grid: { color: '#EFEFEF', lineWidth: 0.7, drawTicks: false },
          border: { display: false },
          ticks: { display: false }
        },
        xTop: {
          axis: 'x', type: 'linear', position: 'top', min: 0.4, max: 6.6,
          afterFit: s => { s.height = 0; },
          grid: { display: false },
          border: { display: true, color: dark, width: 1.4 },
          ticks: { display: false }
        },
        yRight: {
          axis: 'y', type: 'linear', position: 'right', min: -0.045, max: 1.045,
          afterFit: s => { s.width = 0; },
          grid: { display: false },
          border: { display: true, color: dark, width: 1.4 },
          ticks: { display: false }
        }
      }
    },
    plugins: [violinFill]
  });
}

panelGrid.forEach((row, r) => row.forEach((violins, c) => makePanel(violins, r, c)));

// column titles
colTitles.forEach((t, c) => {
  const d = document.createElement('div');
  d.className = 'lbl';
  d.style.left = colTitleX[c] + 'px';
  d.style.top = '75px';
  d.innerHTML = '<i>L</i> = ' + t;
  page.appendChild(d);
});

// legend
const legendLeft = [338, 624, 894];
const legendTop = [1526, 1580];
fillColors.forEach((col, i) => {
  const lx = legendLeft[i % 3], ly = legendTop[Math.floor(i / 3)];
  const sw = document.createElement('div');
  sw.className = 'sw';
  sw.style.left = lx + 'px';
  sw.style.top = ly + 'px';
  sw.style.background = col;
  page.appendChild(sw);
  const tx = document.createElement('div');
  tx.className = 'lt';
  tx.style.left = (lx + 46) + 'px';
  tx.style.top = (ly + 20) + 'px';
  tx.innerHTML = '<i>θ</i> = ' + thetaValues[i] + ', <i>ρ</i> = ' + rhoValues[i];
  page.appendChild(tx);
});
</script>
</body>
</html>
